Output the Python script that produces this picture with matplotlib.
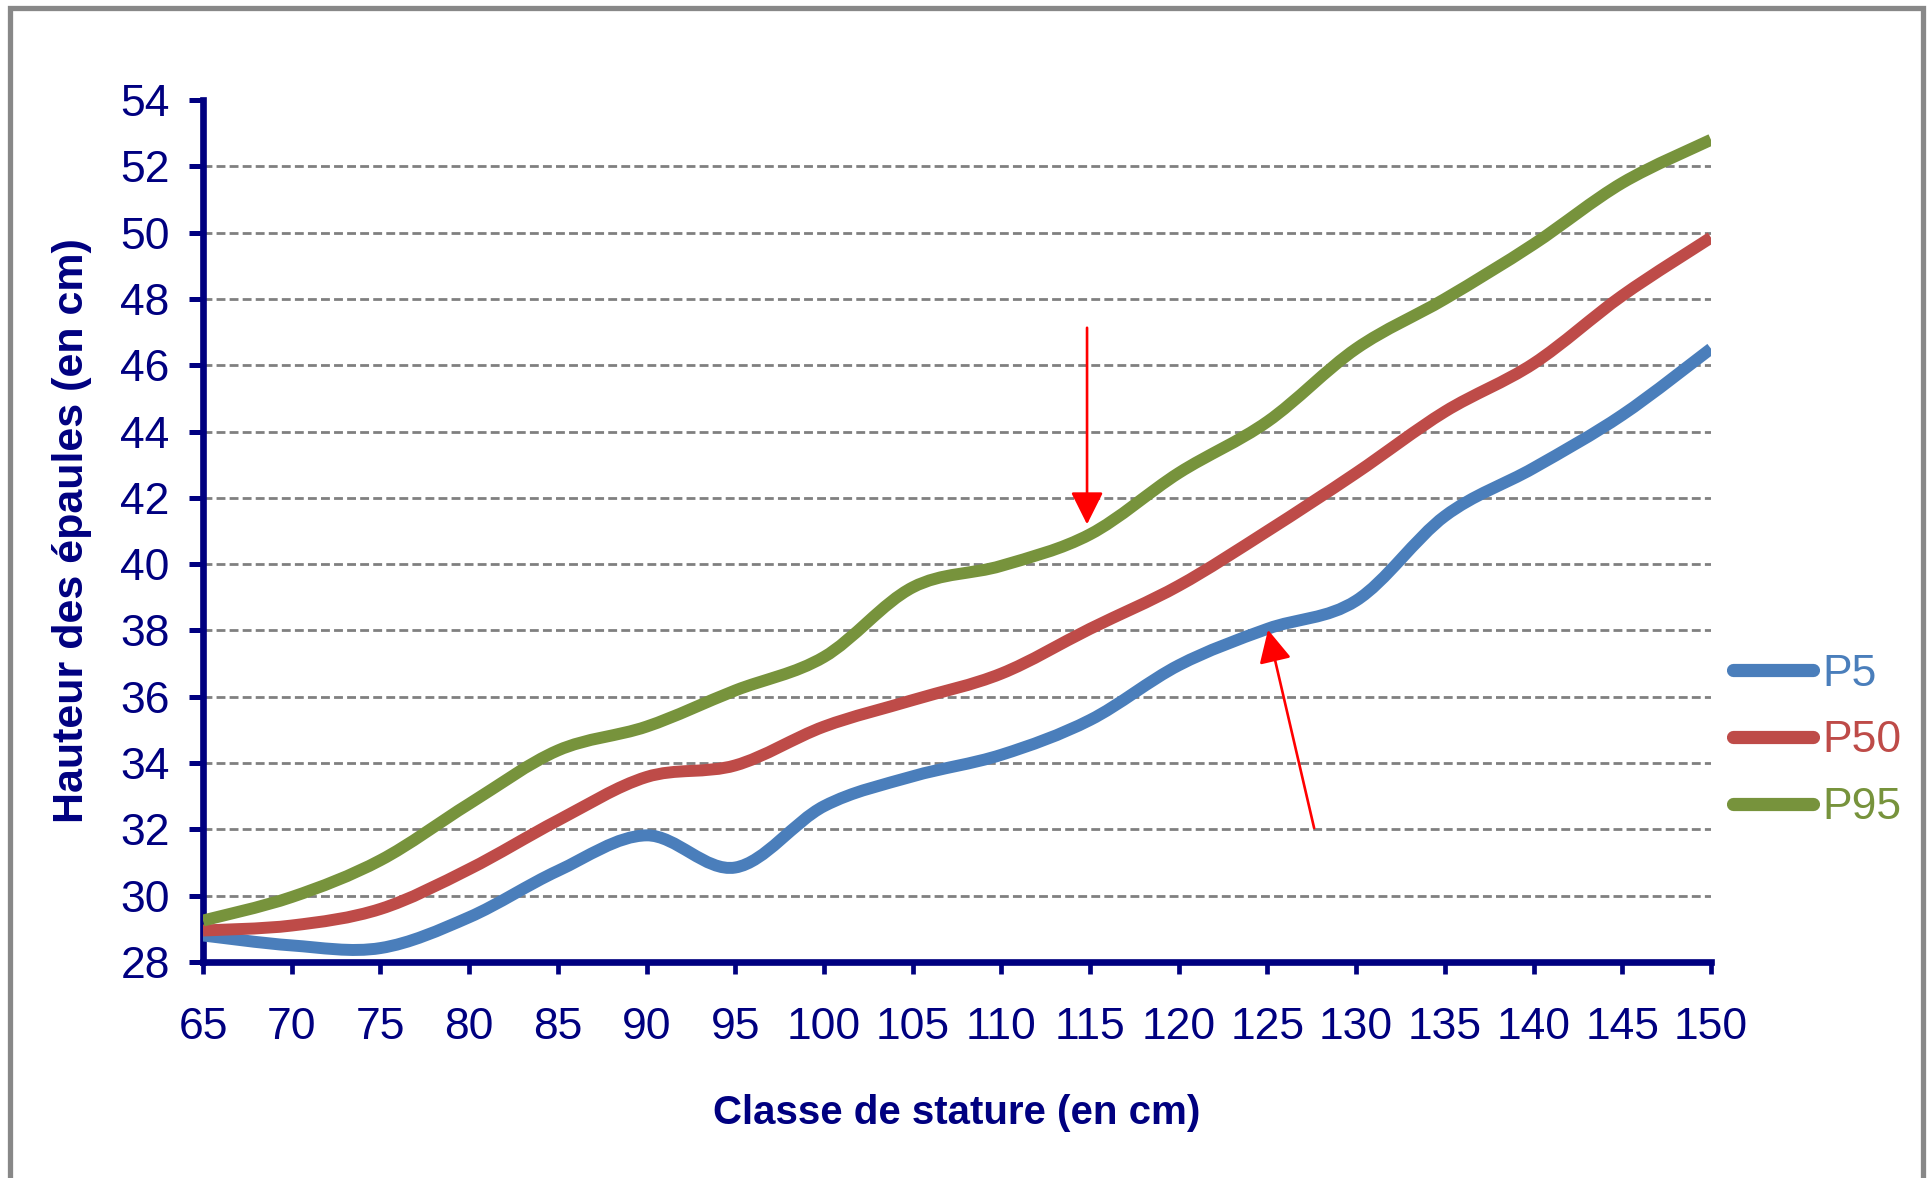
import numpy as np
import matplotlib
matplotlib.use("Agg")
import matplotlib.pyplot as plt
from matplotlib.path import Path
from matplotlib.patches import PathPatch, Rectangle
from matplotlib.lines import Line2D

# Stature classes (cm) and shoulder height percentiles (cm)
stature = [65, 70, 75, 80, 85, 90, 95, 100, 105, 110, 115, 120, 125, 130, 135, 140, 145, 150]
p5 = [28.8, 28.5, 28.42, 29.35, 30.75, 31.82, 30.85, 32.7, 33.6, 34.25, 35.3, 36.95, 38.05, 38.9, 41.45, 42.9, 44.5, 46.5]
p50 = [28.95, 29.1, 29.6, 30.8, 32.27, 33.58, 33.93, 35.1, 35.9, 36.7, 38.05, 39.35, 41.0, 42.75, 44.6, 46.05, 48.1, 49.85]
p95 = [29.25, 29.96, 31.07, 32.77, 34.38, 35.1, 36.19, 37.2, 39.3, 39.95, 40.9, 42.75, 44.3, 46.5, 48.0, 49.65, 51.5, 52.8]

series_names = ["P5", "P50", "P95"]
series_colors = ["#4A7EBB", "#BE4B48", "#77933C"]

xticks = list(range(65, 151, 5))
yticks = list(range(28, 55, 2))

# red annotation arrows: (tip, start) in data units
arrow_tips = [(114.83, 41.2), (125.03, 38.02)]
arrow_starts = [(114.83, 47.13), (127.63, 32.04)]

NAVY = "#000080"
plt.rcParams["font.family"] = ["Liberation Sans", "DejaVu Sans"]


def smooth_path(xs, ys):
    # Excel-style smoothed line: Catmull-Rom segments as cubic Bezier curves
    pts = np.column_stack([xs, ys]).astype(float)
    n = len(pts)
    verts = [pts[0]]
    codes = [Path.MOVETO]
    for i in range(n - 1):
        p0 = pts[i - 1] if i > 0 else pts[i]
        p1 = pts[i]
        p2 = pts[i + 1]
        p3 = pts[i + 2] if i + 2 < n else pts[i + 1]
        verts += [p1 + (p2 - p0) / 6, p2 - (p3 - p1) / 6, p2]
        codes += [Path.CURVE4] * 3
    return Path(verts, codes)


W, H = 1931, 1178
fig = plt.figure(figsize=(W / 100, H / 100), dpi=100)
fig.patch.set_facecolor("white")

# outer gray frame (bottom edge is cut off in the original)
fig.add_artist(Rectangle((10 / W, -0.02), 1913 / W, 1.02 - 8 / H, transform=fig.transFigure,
                         fill=False, edgecolor="#888888", linewidth=3.8))

ax = fig.add_axes([203 / W, 1 - 962 / H, (1711 - 203) / W, (962 - 100) / H])
ax.set_xlim(65, 150)
ax.set_ylim(28, 54)
ax.set_xticks(xticks)
ax.set_yticks(yticks)

for spine in ["top", "right"]:
    ax.spines[spine].set_visible(False)
for spine in ["left", "bottom"]:
    ax.spines[spine].set_color(NAVY)
    ax.spines[spine].set_linewidth(4.8)

ax.tick_params(axis="y", direction="out", length=10, width=3.6, color=NAVY,
               labelcolor=NAVY, labelsize=32, pad=14)
ax.tick_params(axis="x", direction="out", length=8.4, width=3.4, color=NAVY,
               labelcolor=NAVY, labelsize=32, pad=24)

ax.set_axisbelow(True)
ax.yaxis.grid(True, color="#808080", linewidth=2.0, linestyle=(0, (3.2, 1.5)))
ax.xaxis.grid(False)
for gl, val in zip(ax.get_ygridlines(), yticks):
    if val in (28, 54):
        gl.set_visible(False)

for ys, color in zip([p5, p50, p95], series_colors):
    ax.add_patch(PathPatch(smooth_path(stature, ys), facecolor="none", edgecolor=color,
                           linewidth=8.6, capstyle="butt", joinstyle="round", zorder=3))

for tip, start in zip(arrow_tips, arrow_starts):
    ax.annotate("", xy=tip, xytext=start, annotation_clip=False,
                arrowprops=dict(arrowstyle="-|>,head_length=20,head_width=10", mutation_scale=1,
                                color="red", lw=1.9, shrinkA=0, shrinkB=0), zorder=5)

ax.set_xlabel("Classe de stature (en cm)", fontsize=29, fontweight="bold", color=NAVY)
ax.set_ylabel("Hauteur des épaules (en cm)", fontsize=31, fontweight="bold", color=NAVY)
ax.xaxis.set_label_coords(0.5, -0.153)
ax.yaxis.set_label_coords(-0.0736, 0.5)

handles = [Line2D([], [], color=c, linewidth=9.5, solid_capstyle="round") for c in series_colors]
leg = ax.legend(handles, series_names, loc="center left",
                bbox_to_anchor=(1733 / W, 1 - 741 / H), bbox_transform=fig.transFigure,
                frameon=False, borderpad=0, borderaxespad=0, fontsize=32, handlelength=1.8,
                handletextpad=0.2, labelspacing=0.58)
for text, c in zip(leg.get_texts(), series_colors):
    text.set_color(c)

plt.savefig("out.png", dpi=100)
plt.close()
